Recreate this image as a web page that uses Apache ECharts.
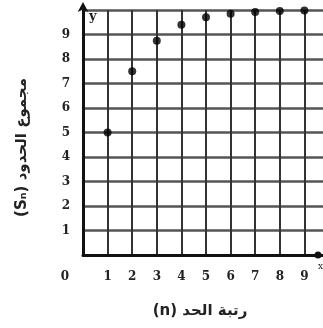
<!DOCTYPE html>
<html>
<head>
<meta charset="utf-8">
<script src="https://cdn.jsdelivr.net/npm/echarts@6/dist/echarts.min.js"></script>
<style>
  html, body { margin: 0; padding: 0; background: #fff; overflow: hidden; }
  #chart { width: 323px; height: 328px; }
</style>
</head>
<body>
<div id="chart"></div>
<script>
// term number n and partial sum S_n
const terms = [1, 2, 3, 4, 5, 6, 7, 8, 9]
const sums = [5, 7.5, 8.75, 9.4, 9.7, 9.85, 9.92, 9.96, 9.98]
const xTitle = '(n) رتبة الحد'
const yTitle = '(Sₙ) مجموع الحدود'

const labelFont = { fontFamily: 'DejaVu Serif', fontWeight: 'bold', fontSize: 12, color: '#222' }

const chart = echarts.init(document.getElementById('chart'))
chart.setOption({
  backgroundColor: '#fff',
  animation: false,
  grid: { left: 83, right: -6, top: 10, bottom: 73, outerBoundsMode: 'none' },
  xAxis: {
    type: 'value',
    min: 0,
    max: 10,
    interval: 1,
    name: xTitle,
    nameLocation: 'middle',
    nameGap: 49,
    nameTextStyle: { fontFamily: 'DejaVu Sans', fontWeight: 'bold', fontSize: 15, color: '#222', padding: [0, 12, 0, 0] },
    axisLine: {
      lineStyle: { color: '#111', width: 3 },
      symbol: ['none', 'circle'],
      symbolSize: [7, 7],
      symbolOffset: [0, -11]
    },
    axisTick: { show: false },
    axisLabel: Object.assign({
      margin: 16,
      formatter: v => v === 0 ? '{o|0}' : ((v < 10) ? String(v) : ''),
      rich: { o: { padding: [0, 36, 0, 0], fontFamily: 'DejaVu Serif', fontWeight: 'bold', fontSize: 12, color: '#222' } }
    }, labelFont),
    splitLine: { lineStyle: { color: '#333', width: 2 } }
  },
  yAxis: {
    type: 'value',
    min: 0,
    max: 10,
    interval: 1,
    name: yTitle,
    nameLocation: 'middle',
    nameGap: 53,
    nameTextStyle: { fontFamily: 'DejaVu Sans', fontWeight: 'bold', fontSize: 15, color: '#222', padding: [0, 30, 0, 0] },
    axisLine: {
      lineStyle: { color: '#111', width: 3 },
      symbol: ['none', 'arrow'],
      symbolSize: [8, 10],
      symbolOffset: [0, 8]
    },
    axisTick: { show: false },
    axisLabel: Object.assign({
      margin: 13,
      formatter: v => (v > 0 && v < 10) ? String(v) : ''
    }, labelFont),
    splitLine: { lineStyle: { color: '#555', width: 2.5 } }
  },
  graphic: [
    { type: 'text', left: 89, top: 10, style: { text: 'y', fontFamily: 'DejaVu Serif', fontWeight: 'bold', fontSize: 13, fill: '#222' } },
    { type: 'text', left: 318, top: 262, style: { text: 'x', fontFamily: 'DejaVu Serif', fontSize: 9, fill: '#222' } }
  ],
  series: [{
    type: 'scatter',
    data: terms.map((n, i) => [n, sums[i]]),
    symbolSize: 8,
    itemStyle: { color: '#000' },
    z: 5
  }]
})
</script>
</body>
</html>
